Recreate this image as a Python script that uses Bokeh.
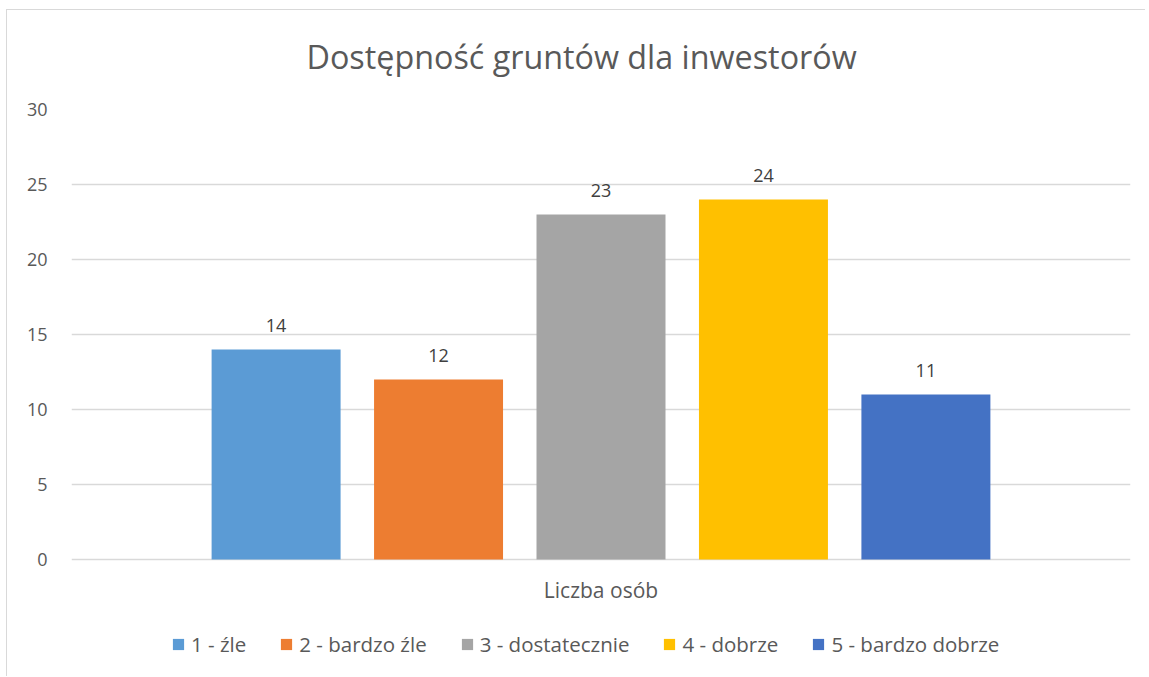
from bokeh.plotting import figure
from bokeh.models import (FactorRange, Range1d, ColumnDataSource, LabelSet, Legend, LegendItem,
                          FixedTicker)
from bokeh.core.properties import value
from bokeh.transform import dodge
from bokeh.embed import file_html
from bokeh.resources import INLINE

title = "Dostępność gruntów dla inwestorów"
group = "Liczba osób"
categories = ["1 - źle", "2 - bardzo źle", "3 - dostatecznie", "4 - dobrze", "5 - bardzo dobrze"]
values = [14, 12, 23, 24, 11]
colors = ["#5B9BD5", "#ED7D31", "#A5A5A5", "#FFC000", "#4472C4"]
y_ticks = [0, 5, 10, 15, 20, 25, 30]

FONT = "Open Sans"
TXT = "#595959"

p = figure(width=1145, height=676, x_range=FactorRange(factors=[group], range_padding=0),
           y_range=Range1d(-7.8, 30), output_backend="svg", toolbar_location=None,
           min_border_left=71, min_border_right=15, min_border_top=109, min_border_bottom=0)
# chart-area border (light grey lines at the top and the left, as in the reference)
p.styles = {"background": "linear-gradient(#d9d9d9, #d9d9d9) 6px 9px / 100% 1px no-repeat, "
                          "linear-gradient(#d9d9d9, #d9d9d9) 6px 9px / 1px 100% no-repeat"}
p.border_fill_color = None
p.background_fill_color = None
p.outline_line_color = None

p.title.text = title
p.title.align = "left"
p.title.offset = 235
p.title.standoff = 63
p.title.text_font = FONT
p.title.text_font_size = "32.3px"
p.title.text_font_style = "normal"
p.title.text_color = TXT

step = 0.1534
bw = 0.1218
items = []
for i, (c, v, col) in enumerate(zip(categories, values, colors)):
    src = ColumnDataSource(dict(x=[group], top=[v], lab=[str(v)]))
    off = (i - 2) * step
    r = p.vbar(x=dodge("x", off, range=p.x_range), top="top", width=bw, source=src,
               fill_color=col, line_color=None)
    items.append(LegendItem(label=c, renderers=[r]))
    lbl = LabelSet(x=dodge("x", off, range=p.x_range), y="top", text="lab", source=src,
                   text_align="center", text_baseline="alphabetic", y_offset=18,
                   text_font_size="18px", text_color="#404040", text_font=value(FONT))
    p.add_layout(lbl)

# category label of the x axis (axis itself hidden because the frame is extended for the legend)
cat_src = ColumnDataSource(dict(x=[group], y=[0], lab=[group]))
p.add_layout(LabelSet(x="x", y="y", text="lab", source=cat_src, text_align="center",
                      text_baseline="alphabetic", y_offset=-38, text_font_size="21px",
                      text_color=TXT, text_font=value(FONT)))
p.xaxis.visible = False

p.yaxis.ticker = FixedTicker(ticks=y_ticks)
p.ygrid.ticker = FixedTicker(ticks=y_ticks)
p.xgrid.grid_line_color = None
p.ygrid.grid_line_color = "#d9d9d9"
p.ygrid.grid_line_width = 1.5

ax = p.yaxis[0]
ax.axis_line_color = None
ax.major_tick_line_color = None
ax.minor_tick_line_color = None
ax.major_label_text_font = FONT
ax.major_label_text_color = TXT
ax.major_label_text_font_size = "18px"
ax.major_label_standoff = 18

legend = Legend(items=items, orientation="horizontal", location=(100, 18),
                label_text_font=FONT, label_text_font_size="20.5px", label_text_color=TXT,
                glyph_width=14, glyph_height=14, label_standoff=6, spacing=33,
                border_line_color=None, background_fill_alpha=0, margin=0, padding=0)
p.add_layout(legend, "center")

open("out.html", "w").write(file_html(p, INLINE))
